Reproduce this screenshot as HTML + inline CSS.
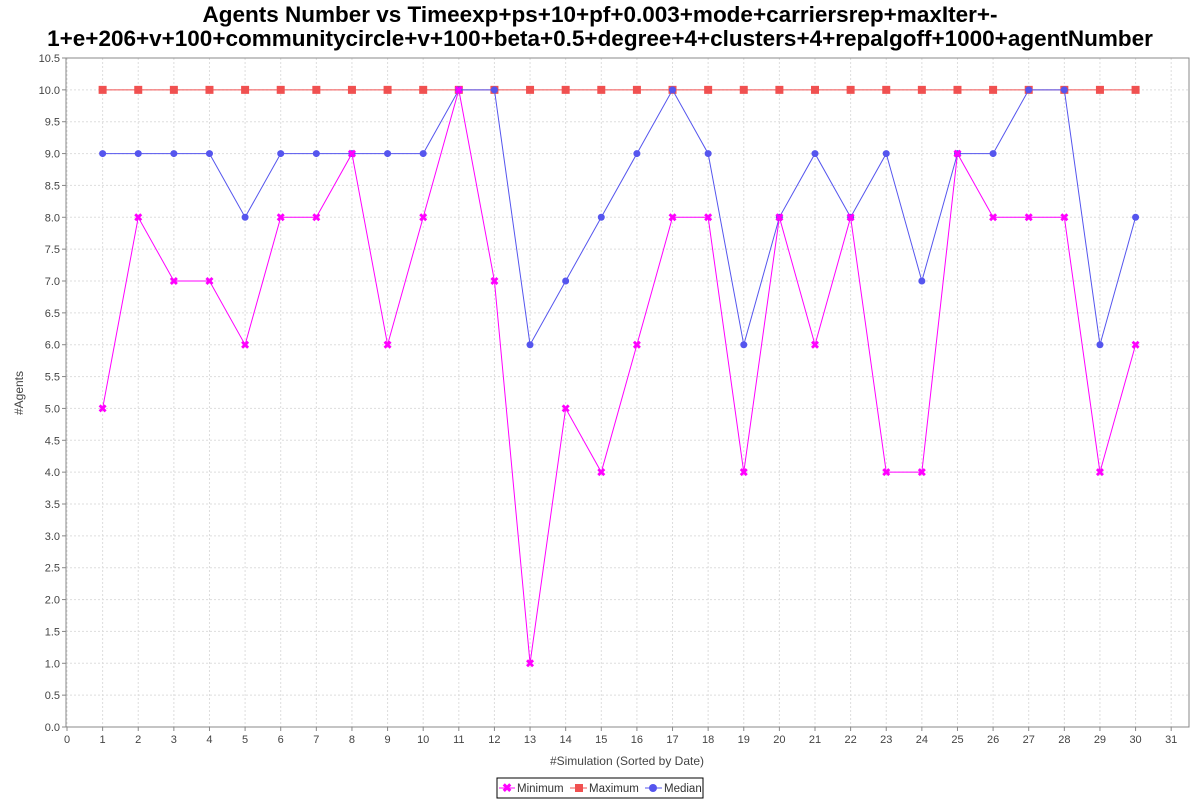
<!DOCTYPE html>
<html><head><meta charset="utf-8"><style>
body{margin:0;background:#fff;width:1200px;height:800px;overflow:hidden;font-family:"Liberation Sans",sans-serif}
</style></head><body>
<svg id="chart" width="1200" height="800" xmlns="http://www.w3.org/2000/svg">
<text x="600" y="22" text-anchor="middle" font-size="22.5" font-weight="bold" font-family="Liberation Sans, sans-serif">Agents Number vs Timeexp+ps+10+pf+0.003+mode+carriersrep+maxIter+-</text>
<text x="600" y="46" text-anchor="middle" font-size="22.5" font-weight="bold" font-family="Liberation Sans, sans-serif">1+e+206+v+100+communitycircle+v+100+beta+0.5+degree+4+clusters+4+repalgoff+1000+agentNumber</text>
<g id="grid"></g><g id="axes"></g><g id="series"></g>
<text transform="translate(23,393) rotate(-90)" text-anchor="middle" font-size="12" fill="#444">#Agents</text>
<text x="627" y="765" text-anchor="middle" font-size="12" fill="#444">#Simulation (Sorted by Date)</text>
<g>
<rect x="497" y="778" width="206" height="20" fill="#fff" stroke="#000"/>
<line x1="499" y1="788" x2="515" y2="788" stroke="#ff00ff"/><text x="507" y="792" text-anchor="middle" font-size="12" fill="#ff00ff" font-weight="bold">✖</text>
<text x="517" y="792" font-size="11.5" fill="#333">Minimum</text>
<line x1="570" y1="788" x2="587" y2="788" stroke="#f05050"/><rect x="575" y="784" width="8" height="8" fill="#f05050"/>
<text x="589" y="792" font-size="11.5" fill="#333">Maximum</text>
<line x1="645" y1="788" x2="662" y2="788" stroke="#5555ee"/><circle cx="653" cy="788" r="4" fill="#5555ee"/>
<text x="664" y="792" font-size="11.5" fill="#333">Median</text>
</g>
</svg>
<script>
const categories=[1,2,3,4,5,6,7,8,9,10,11,12,13,14,15,16,17,18,19,20,21,22,23,24,25,26,27,28,29,30];
const minimum=[5,8,7,7,6,8,8,9,6,8,10,7,1,5,4,6,8,8,4,8,6,8,4,4,9,8,8,8,4,6];
const maximum=[10,10,10,10,10,10,10,10,10,10,10,10,10,10,10,10,10,10,10,10,10,10,10,10,10,10,10,10,10,10];
const median=[9,9,9,9,8,9,9,9,9,9,10,10,6,7,8,9,10,9,6,8,9,8,9,7,9,9,10,10,6,8];
const xTicks=[0,1,2,3,4,5,6,7,8,9,10,11,12,13,14,15,16,17,18,19,20,21,22,23,24,25,26,27,28,29,30,31];
const yTicks=[0,0.5,1,1.5,2,2.5,3,3.5,4,4.5,5,5.5,6,6.5,7,7.5,8,8.5,9,9.5,10,10.5];
const L=66,R=1189,T=58,B=727,XMAX=31.5,YMAX=10.5;
const xs=v=>L+1+v*(R-L-1)/XMAX, ys=v=>B-v*(B-T)/YMAX;
const NS="http://www.w3.org/2000/svg";
function mk(p,t,a){const e=document.createElementNS(NS,t);for(const k in a)e.setAttribute(k,a[k]);p.appendChild(e);return e;}
const grid=document.getElementById('grid'),axes=document.getElementById('axes'),ser=document.getElementById('series');
mk(grid,'rect',{x:L,y:T,width:R-L,height:B-T,fill:'#fff'});
xTicks.forEach(v=>{const x=xs(v);
 const g=mk(grid,'line',{x1:x,y1:T,x2:x,y2:B,stroke:'#ddd','stroke-dasharray':'2,2'});
 
 mk(axes,'line',{x1:x,y1:B,x2:x,y2:B+4,stroke:'#888'});
 const t=mk(axes,'text',{x:x,y:B+16,'text-anchor':'middle','font-size':11,fill:'#444'});t.textContent=v;
 });
yTicks.forEach(v=>{const y=ys(v);
 const g=mk(grid,'line',{x1:L,y1:y,x2:R,y2:y,stroke:'#ddd','stroke-dasharray':'2,2'});
 
 mk(axes,'line',{x1:L-4,y1:y,x2:L,y2:y,stroke:'#888'});
 const t=mk(axes,'text',{x:L-6,y:y+4,'text-anchor':'end','font-size':11,fill:'#444'});t.textContent=v.toFixed(1);
 });
mk(axes,'rect',{x:L,y:T,width:R-L,height:B-T,fill:'none',stroke:'#888'});
function series(arr,color,shape,name){
 const pts=categories.map((c,i)=>xs(c)+','+ys(arr[i])).join(' ');
 const pl=mk(ser,'polyline',{points:pts,fill:'none',stroke:color,'stroke-width':1});
 
 categories.forEach((c,i)=>{const x=xs(c),y=ys(arr[i]);let m;
  if(shape==='sq')m=mk(ser,'rect',{x:x-4,y:y-4,width:8,height:8,fill:color});
  else if(shape==='c')m=mk(ser,'circle',{cx:x,cy:y,r:3.5,fill:color});
  else{m=mk(ser,'path',{d:`M${x-4},${y-2}L${x-2},${y-4}L${x},${y-2}L${x+2},${y-4}L${x+4},${y-2}L${x+2},${y}L${x+4},${y+2}L${x+2},${y+4}L${x},${y+2}L${x-2},${y+4}L${x-4},${y+2}L${x-2},${y}Z`,fill:color});}
  });
}
series(maximum,'#f05050','sq','maximum');
series(median,'#5555ee','c','median');
series(minimum,'#ff00ff','x','minimum');
</script>
</body></html>
